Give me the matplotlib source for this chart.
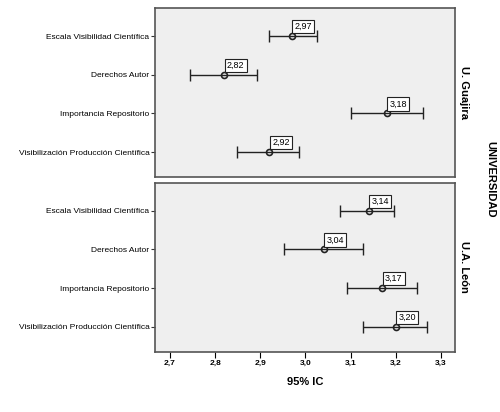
import matplotlib.pyplot as plt

plt.rcParams['font.family'] = ['Liberation Sans', 'DejaVu Sans']

variables = ["Escala Visibilidad Científica", "Derechos Autor",
             "Importancia Repositorio", "Visibilización Producción Científica"]
universidades = ["U. Guajira", "U.A. León"]

# medias y limites del IC 95%
media_guajira = [2.97, 2.82, 3.18, 2.92]
inf_guajira = [2.919, 2.744, 3.100, 2.848]
sup_guajira = [3.025, 2.893, 3.260, 2.985]

media_leon = [3.14, 3.04, 3.17, 3.20]
inf_leon = [3.076, 2.952, 3.092, 3.127]
sup_leon = [3.196, 3.127, 3.246, 3.269]

xticks = [2.7, 2.8, 2.9, 3.0, 3.1, 3.2, 3.3]

fig = plt.figure(figsize=(5, 4.12), dpi=100)
ax1 = fig.add_axes([0.31, 0.570, 0.60, 0.410])
ax2 = fig.add_axes([0.31, 0.146, 0.60, 0.410])

datos = [(media_guajira, inf_guajira, sup_guajira),
         (media_leon, inf_leon, sup_leon)]

for ax, (media, inf, sup), nombre in zip([ax1, ax2], datos, universidades):
    ax.set_facecolor("#efefef")
    ypos = list(range(len(variables)))
    for y, m, lo, hi in zip(ypos, media, inf, sup):
        ax.errorbar(m, y, xerr=[[m - lo], [hi - m]], fmt='none',
                    ecolor='#222222', elinewidth=1, capsize=4, capthick=1)
        ax.plot(m, y, 'o', markersize=4.3, markerfacecolor='none',
                markeredgecolor='#222222', markeredgewidth=1.2, zorder=3)
        ax.annotate(f"{m:.2f}".replace(".", ","), (m, y), xytext=(2, 3.5),
                    textcoords='offset points', fontsize=6.5, ha='left', va='bottom',
                    bbox=dict(boxstyle='square,pad=0.25', fc='white', ec='#222222', lw=0.8))
    ax.set_yticks(ypos)
    ax.set_yticklabels(variables, fontsize=6)
    ax.set_ylim(3.65, -0.72)
    ax.set_xlim(2.667, 3.331)
    ax.set_xticks(xticks)
    for s in ax.spines.values():
        s.set_color('#555555')
        s.set_linewidth(1.2)
    ax.tick_params(axis='y', length=3, width=0.8, pad=1, colors='#333333', labelcolor='black')
    ax.tick_params(axis='x', length=4, width=0.8, pad=2)
    ax.text(1.03, 0.5, nombre, transform=ax.transAxes, rotation=-90,
            ha='center', va='center', fontsize=8, fontweight='bold')

ax1.tick_params(axis='x', bottom=False, labelbottom=False)
ax2.set_xticklabels([f"{t:.1f}".replace(".", ",") for t in xticks],
                    fontsize=6, fontweight='bold')
ax2.set_xlabel("95% IC", fontsize=8, fontweight='bold', labelpad=7)

fig.text(0.98, 0.565, "UNIVERSIDAD", rotation=-90, ha='center', va='center',
         fontsize=8, fontweight='bold')

fig.savefig("out.png", dpi=100)
